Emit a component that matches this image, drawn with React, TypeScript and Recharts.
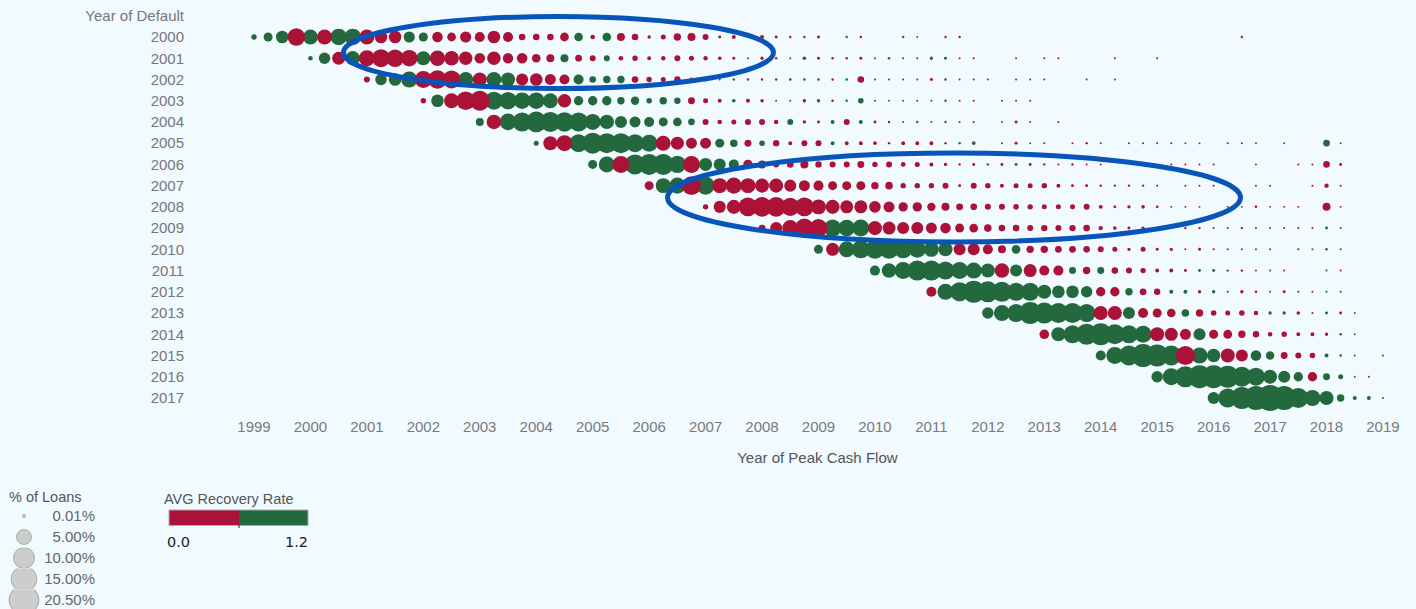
import { ScatterChart, Scatter, XAxis, YAxis, ZAxis } from "recharts";

// % of loans per quarter, one array per default year. Each array begins at firstQuarter[i]
// (quarters counted from 1999 Q1), null = no dot.
// Negative = AVG recovery rate below the 0.6 midpoint (red), positive = above it (green).
const loans2000 = [.66,1.85,3.6,-6.9,5.1,-5.1,6.3,6.3,-5.1,-3.6,-3.6,2.85,1.9,-2.55,-1.77,-2.85,-2.3,-3.6,-2.3,-1,-1,-1,-1.77,1.7,-.48,1.7,-1.46,-1,-.26,-.57,-1.25,-1.46,-.82,-.2,-.36,null,-.36,-.2,-.13,-.13,-.2,null,.13,-.13,null,null,.13,.09,null,-.13,-.13,null,null,null,null,null,null,null,null,null,null,null,null,null,null,null,null,null,null,null,-.13];
const loans2001 = [.48,3,-3.85,4.7,-5.85,-7.4,-6.9,-6.3,4.5,-5.4,-4.85,-4.1,-2.55,-4.1,-2.45,-2.55,-1.7,-1.46,1.46,-1.05,-.82,.82,-.48,-.66,-.36,-.44,-.82,-.57,-.44,-.3,-.2,.09,-.26,-.13,.09,.3,-.2,-.13,-.13,-.2,.09,.15,-.09,-.09,.26,.2,-.09,-.09,null,null,-.09,null,-.09,-.09,null,null,null,-.09,null,null,-.09];
const loans2002 = [-.82,3,3.6,5.85,-6.6,-7.9,-7.4,5.1,-4.5,5.1,4.5,-3.3,-3.6,-2.75,-2.3,2.3,1,1.25,1.25,-1,-.66,-.57,-.93,-.36,-.36,-.09,.13,-.13,-.13,-.13,-.15,.15,-.13,-.13,.15,-1,-.09,-.09,-.09,-.09,-.2,-.13,-.09,-.09,-.09,null,-.09,-.09,-.09,null,null,-.09,null,-.09];
const loans2003 = [-.66,3.6,-5.1,-7.9,-9.1,7.4,6.9,6.3,6.3,5.1,-4.1,2,2,2,1.25,1.6,.71,1.25,.93,-1.1,-.57,-.36,.3,-.36,-.26,.09,.09,-.26,.26,-.15,.13,.71,.09,.09,.09,.09,.09,.13,-.09,-.09,null,-.09,-.09,-.09];
const loans2004 = [1.46,-4.85,6.3,8.2,9.7,9.1,8.6,8.2,5.85,4.7,3.3,2.75,2.3,1.85,1.7,1,-.82,-.48,-.57,-.82,-.82,-.48,.82,-.26,-.2,.36,-.82,.36,-.2,-.13,.09,.13,.09,.13,-.09,-.09,null,.09,-.2,-.09,null,-.09];
const loans2005 = [.57,-4.5,-5.85,7.4,10,9.1,9.1,7.4,6.6,-5.1,-3.85,-2.75,-2.75,1.85,1.3,-1.1,.71,-.93,-.36,-.82,-.82,.36,-.36,-.36,-.3,-.13,-.36,-.36,-.36,-.13,.13,.3,null,-.09,-.2,.09,-.09,null,-.09,-.13,.09,null,-.09,-.09,-.09,-.09,.09,.09,null,-.09,-.09,.09,null,.09,null,null,1,.09];
const loans2006 = [1.85,5.85,-6.6,9.1,10,10,6.9,-6.6,3.85,3.3,2.3,-2,-1.46,-.82,-1,-1.46,-.93,-.82,-.82,-1.1,-.66,-.82,-.52,-.57,-.36,-.26,-.13,-.2,.13,-.2,.2,-.2,-.13,-.09,-.13,-.09,-.09,null,null,null,null,-.09,-.09,-.09,-.09,null,null,.09,null,null,-.09,-.09,-1,-.2];
const loans2007 = [-1.85,5.1,5.85,-8.2,7.4,-5.1,-5.85,-5.1,-4.5,-4.5,-3.3,-2.75,-2.3,-1.85,-1.85,-1.85,-1.25,-1.3,-.66,-.66,-.66,-.82,-.2,-.82,-.66,-.36,-.57,-.57,-.66,-.36,-.2,-.2,-.13,.13,-.13,.13,-.09,null,-.09,-.09,-.09,null,null,-.09,-.09,null,null,-.09,-.44,-.09];
const loans2008 = [-.66,-3.3,-4.5,-8.2,-8.75,-8.75,-7.4,-8.2,-5.1,-4.5,-3.85,-3.85,-3.05,-2.75,-2,-2,-1.6,-1.46,-1.1,-1,-.82,-.82,-.71,-.66,-.57,-.57,-.57,-.82,-.36,-.2,-.26,-.3,-.15,-.09,-.09,-.09,null,-.09,-.09,-.15,-.09,-.09,-.09,null,-1.46,-.09];
const loans2009 = [-1.1,-3.3,-5.85,-8.2,-7.4,6.9,6.3,6.6,-4.5,-3.85,-3.3,-3.3,-2.75,-2.55,-1.85,-1.7,-1.3,-1,-1,-.82,-.93,-.82,-.93,-1,-.44,-.3,-.2,-.26,-.09,-.09,-.13,-.13,-.09,-.09,-.13,-.09,-.09,-.09,-.09,-.09,.2,.09];
const loans2010 = [1.85,-3.85,5.85,7.4,8.2,8.2,7.4,6.6,5.1,4.5,-3.3,-3.3,-2.3,-1.46,1.7,-1.25,-1.25,-1.05,-1.05,-1,-.82,-.57,-.26,-.57,-.2,-.26,-.09,-.2,-.09,-.09,-.09,-.09,-.09,null,-.09,.09,.15,.09];
const loans2011 = [2.3,4.85,6.6,9.1,9.1,7.4,6.6,5.85,4.5,-4.85,3.3,-3.85,-2.3,-2.3,1.1,-1.25,1.1,-1,-.82,-.66,-.36,-.36,-.2,.2,.2,.13,-.13,-.09,.09,-.09,null,null,.09,-.09];
const loans2012 = [-2.3,5.85,8.2,11,10,9.1,7.4,7.4,4.5,3.6,3.6,3,-2,-2,1.25,-1.05,-.93,.36,.36,-.26,.26,-.09,-.26,-.15,.09,-.2,-.09,-.09,.09,.09];
const loans2013 = [3,5.85,7.4,11,10,9.1,9.1,7.4,-4.5,-4.5,3.3,-2.3,-1.85,-1.7,1.3,-1.25,-.71,-.57,-.71,-.44,.26,.26,-.3,-.09,.2,-.2,.09];
const loans2014 = [-2.1,4.5,7.4,10,11,9.1,7.4,6.6,-4.5,-3.85,-2.75,3.3,-1.85,-1.77,-1.25,-.93,-.48,-.66,-.36,-.36,-.26,.15,.09];
const loans2015 = [2.3,6.6,9.1,12,11,9.1,-8.2,5.85,4.1,-4.5,-3.3,2.55,1.6,-1.1,-.82,-.71,.36,.15,.09,null,-.09];
const loans2016 = [3,6.6,10,12,12,11,9.1,7.4,4.5,3.3,2,-2,1.1,.57,.09,-.09];
const loans2017 = [3.3,8.2,11,13.1,15.4,13.1,9.1,5.85,4.5,1.25,.36,.36,-.09];

const defaultYears = [2000,2001,2002,2003,2004,2005,2006,2007,2008,2009,2010,2011,2012,2013,2014,2015,2016,2017];
const firstQuarter = [0,4,8,12,16,20,24,28,32,36,40,44,48,52,56,60,64,68];
const rows = [loans2000,loans2001,loans2002,loans2003,loans2004,loans2005,loans2006,loans2007,loans2008,loans2009,loans2010,loans2011,loans2012,loans2013,loans2014,loans2015,loans2016,loans2017];

const peakYearTicks = [1999,2000,2001,2002,2003,2004,2005,2006,2007,2008,2009,2010,2011,2012,2013,2014,2015,2016,2017,2018,2019];
const yTicks = [1999, ...defaultYears]; // 1999 slot carries the axis title

const legendLoans = [0.01, 5, 10, 15, 20.5];
const legendLabels = ["0.01%", "5.00%", "10.00%", "15.00%", "20.50%"];

const RED = "#AB1238";
const GREEN = "#24693D";
const BLUE = "#0754BB";
const BG = "#F1FAFF";
const FONT = "'Liberation Sans', Arial, sans-serif";
const MAX_AREA = 707; // px^2 at 20.5 %

const points = rows.flatMap((row, i) =>
  row.flatMap((v, j) =>
    v === null ? [] : [{ x: 1999 + (firstQuarter[i] + j) / 4, y: defaultYears[i], z: Math.abs(v), v }]
  )
);
const highRecovery = points.filter((p) => p.v > 0);
const lowRecovery = points.filter((p) => p.v < 0);

function LoansLegend() {
  return (
    <>
      <text x={9} y={502} fontSize={14.5} fill="#555">% of Loans</text>
      {legendLoans.map((pct, i) => {
        const r = Math.max(1.5, Math.sqrt((MAX_AREA * pct) / 20.5 / Math.PI));
        const top = 505.5 + i * 21;
        return (
          <g key={pct}>
            {/* each legend row clips its own circle, like the cells in the original */}
            <svg x={0} y={top} width={50} height={21} overflow="hidden">
              <circle cx={24} cy={10.5} r={r} fill="#CDCDCD" stroke="#AAAAAA" strokeWidth={1} />
            </svg>
            <text x={95} y={top + 15.5} fontSize={15} fill="#666" textAnchor="end">{legendLabels[i]}</text>
          </g>
        );
      })}
    </>
  );
}

function RecoveryLegend() {
  return (
    <>
      <text x={164} y={504} fontSize={14.5} fill="#555">AVG Recovery Rate</text>
      <rect x={169} y={510} width={70} height={15.5} fill={RED} />
      <rect x={239} y={510} width={69} height={15.5} fill={GREEN} />
      <rect x={169} y={510} width={139} height={15.5} fill="none" stroke="#AAAAAA" strokeWidth={1} />
      <line x1={239} x2={239} y1={525} y2={528} stroke="#222" strokeWidth={1} />
      <text x={167} y={547} fontSize={14.5} fill="#222" fontFamily="'DejaVu Sans', sans-serif">0.0</text>
      <text x={308} y={547} fontSize={14.5} fill="#222" textAnchor="end" fontFamily="'DejaVu Sans', sans-serif">1.2</text>
    </>
  );
}

export default function App() {
  return (
    <div style={{ position: "absolute", left: 0, top: 0, width: 1416, height: 609, background: BG, overflow: "hidden", fontFamily: FONT }}>
      <ScatterChart width={1416} height={609} margin={{ top: 15.76, right: 4.8, bottom: 140.4, left: 0 }}>
        <XAxis
          type="number"
          dataKey="x"
          domain={[1998, 2019.5]}
          ticks={peakYearTicks}
          interval={0}
          height={60}
          axisLine={false}
          tickLine={false}
          tickMargin={7}
          tick={{ fontSize: 15, fill: "#7A7A7A", fontFamily: FONT }}
          label={{ value: "Year of Peak Cash Flow", position: "insideBottom", offset: 6, dx: 13, fontSize: 15, fill: "#555", fontFamily: FONT }}
        />
        <YAxis
          type="number"
          dataKey="y"
          reversed
          domain={[1999, 2017.5]}
          ticks={yTicks}
          interval={0}
          width={197.55}
          axisLine={false}
          tickLine={false}
          tickMargin={7.5}
          tick={{ fontSize: 15, fill: "#777", fontFamily: FONT }}
          tickFormatter={(v: number) => (v === 1999 ? "Year of Default" : String(v))}
        />
        <ZAxis type="number" dataKey="z" domain={[0, 20.5]} range={[0, MAX_AREA]} />
        {/* red sits on top of green where dots overlap */}
        <Scatter data={highRecovery} fill={GREEN} isAnimationActive={false} />
        <Scatter data={lowRecovery} fill={RED} isAnimationActive={false} />
      </ScatterChart>
      <svg width={1416} height={609} style={{ position: "absolute", left: 0, top: 0, pointerEvents: "none", fontFamily: FONT }}>
        <ellipse cx={558.5} cy={52.5} rx={215} ry={36} fill="none" stroke={BLUE} strokeWidth={5} />
        <ellipse cx={954} cy={197.5} rx={286.5} ry={44.5} fill="none" stroke={BLUE} strokeWidth={5} />
        <LoansLegend />
        <RecoveryLegend />
      </svg>
    </div>
  );
}
